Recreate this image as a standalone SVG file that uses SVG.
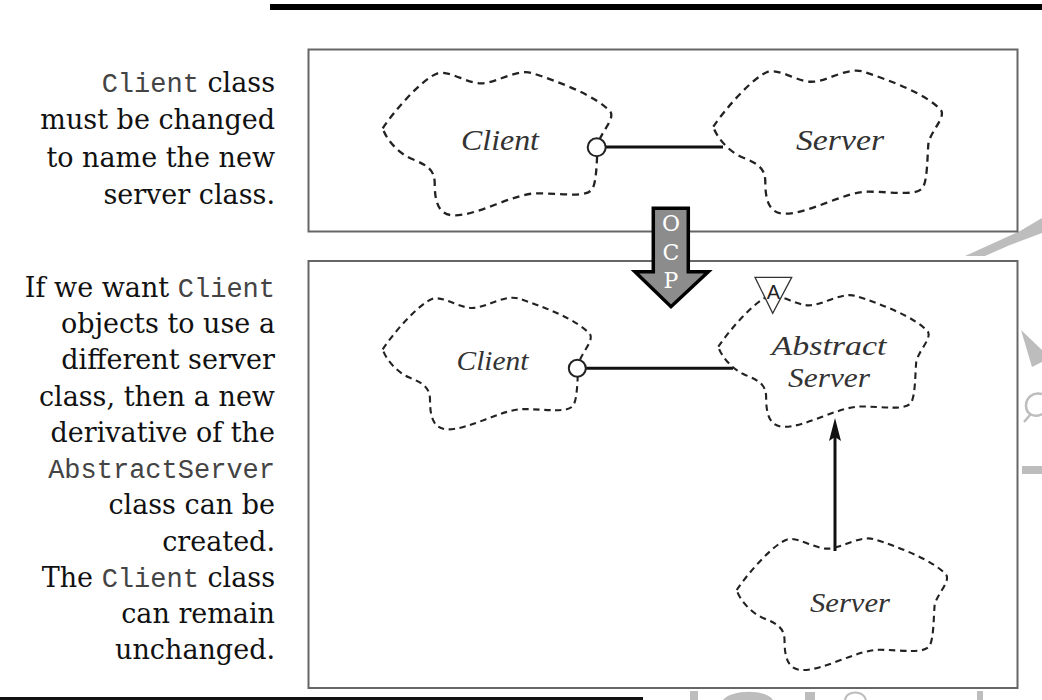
<svg xmlns="http://www.w3.org/2000/svg" width="1042" height="700" viewBox="0 0 1042 700">
<style>
.txt{font-family:"DejaVu Serif",serif;font-size:27px;fill:#111;text-anchor:end}
.mono{font-family:"Liberation Mono",monospace;font-size:27px;fill:#444}
.box{fill:none;stroke:#666;stroke-width:2}
.cloud{fill:none;stroke:#222;stroke-width:2.3;stroke-dasharray:7 5}
.lbl{font-family:"Liberation Serif",serif;font-style:italic;fill:#333;text-anchor:middle}
.port{fill:#fff;stroke:#222;stroke-width:2}
.conn{stroke:#111;stroke-width:3;fill:none}
.wm{fill:#bdbdbd}
.ocp{font-family:"DejaVu Serif",serif;font-size:22px;fill:#fff;text-anchor:middle}
</style>
<defs>
<path id="cloud" d="M0,0 C12,-18 40,-50 55,-55 C68,-58 85,-44 100,-45 C115,-46 135,-60 150,-55 C175,-47 215,-32 228,-16 C232,-8 216,6 215,18 C214,32 214,52 210,60 C205,70 180,65 155,65 C130,65 95,88 70,87 C55,86 52,72 52,55 C52,42 45,37 30,31 C15,25 3,10 0,0 Z"/>
</defs>
<rect x="0" y="0" width="1042" height="700" fill="#fff"/>

<g id="watermark">
<polygon class="wm" points="965,256 1020,231 1042,218 1042,233 1010,245 985,256"/>
<polygon class="wm" points="1021,330 1042,350 1042,362 1032,367"/>
<path d="M1042,394 C1032,392 1026,398 1026,406 C1026,414 1034,418 1042,414 M1030,415 L1024,422" fill="none" stroke="#bdbdbd" stroke-width="2.5"/>
<rect class="wm" x="1022" y="466" width="20" height="8"/>
<rect class="wm" x="690" y="691" width="8" height="9"/>
<path class="wm" d="M723,700 C730,690 765,688 773,700 Z"/>
<rect class="wm" x="805" y="692" width="10" height="8"/>
<path d="M845,700 C846,690 864,690 866,700" fill="none" stroke="#bdbdbd" stroke-width="2"/>
<rect class="wm" x="977" y="691" width="6" height="9"/>
</g>

<rect x="270" y="4" width="772" height="6" fill="#000"/>
<rect x="0" y="697" width="643" height="3" fill="#111"/>

<g id="text-top">
<text class="txt" x="275" y="92"><tspan class="mono">Client</tspan> class</text>
<text class="txt" x="275" y="129.3">must be changed</text>
<text class="txt" x="275" y="166.6">to name the new</text>
<text class="txt" x="275" y="204">server class.</text>
</g>
<g id="text-bottom">
<text class="txt" x="275" y="296.7">If we want <tspan class="mono">Client</tspan></text>
<text class="txt" x="275" y="333">objects to use a</text>
<text class="txt" x="275" y="369.2">different server</text>
<text class="txt" x="275" y="405.5">class, then a new</text>
<text class="txt" x="275" y="441.7">derivative of the</text>
<text class="txt" x="275" y="478"><tspan class="mono">AbstractServer</tspan></text>
<text class="txt" x="275" y="514.3">class can be</text>
<text class="txt" x="275" y="550.5">created.</text>
<text class="txt" x="275" y="586.8">The <tspan class="mono">Client</tspan> class</text>
<text class="txt" x="275" y="623">can remain</text>
<text class="txt" x="275" y="659.3">unchanged.</text>
</g>

<g id="frame-top"><rect class="box" x="308.5" y="49.5" width="709" height="182"/></g>
<g id="frame-bottom"><rect class="box" x="308.5" y="261" width="709" height="427"/></g>

<g id="connectors">
<line class="conn" x1="605" y1="147" x2="723" y2="147"/>
<line class="conn" x1="586" y1="368.3" x2="733" y2="368.3"/>
<line class="conn" x1="835" y1="436" x2="835" y2="551"/>
<path d="M835,418 L829,441 L835,437 L841,441 Z" fill="#111"/>
</g>

<g id="client-top">
<use href="#cloud" class="cloud" transform="translate(382.7,128.3)"/>
<circle class="port" cx="596.7" cy="147.3" r="9"/>
<text class="lbl" x="500" y="150" font-size="30" textLength="78" lengthAdjust="spacingAndGlyphs">Client</text>
</g>
<g id="server-top">
<use href="#cloud" class="cloud" transform="translate(713.3,126.7)"/>
<text class="lbl" x="840" y="150" font-size="30" textLength="88" lengthAdjust="spacingAndGlyphs">Server</text>
</g>
<g id="client-bottom">
<use href="#cloud" class="cloud" transform="translate(382.7,349.3) scale(0.91,0.92)"/>
<circle class="port" cx="577.3" cy="368.3" r="8.5"/>
<text class="lbl" x="492.5" y="370" font-size="28" textLength="72" lengthAdjust="spacingAndGlyphs">Client</text>
</g>
<g id="abstract-server">
<use href="#cloud" class="cloud" transform="translate(718.3,346.7) scale(0.92,0.92)"/>
<polygon points="755,277.3 791.7,277.3 772.7,313.3" fill="#fff" stroke="#333" stroke-width="1.3"/>
<text x="773.3" y="299" font-family="Liberation Sans, sans-serif" font-size="20" fill="#222" text-anchor="middle">A</text>
<text class="lbl" x="829" y="355" font-size="28" textLength="115" lengthAdjust="spacingAndGlyphs">Abstract</text>
<text class="lbl" x="829" y="386.7" font-size="28" textLength="82" lengthAdjust="spacingAndGlyphs">Server</text>
</g>
<g id="server-bottom">
<use href="#cloud" class="cloud" transform="translate(736.7,590) scale(0.92,0.92)"/>
<text class="lbl" x="850" y="611.7" font-size="28" textLength="80" lengthAdjust="spacingAndGlyphs">Server</text>
</g>

<g id="ocp-arrow">
<polygon points="653.3,208.3 688.3,208.3 688.3,271.7 708.3,271.7 671,306.7 635,271.7 653.3,271.7" fill="#8c8c8c" stroke="#000" stroke-width="3.5" stroke-linejoin="miter"/>
<text class="ocp" x="671" y="230.7">O</text>
<text class="ocp" x="671" y="260">C</text>
<text class="ocp" x="671" y="288.3">P</text>
</g>
</svg>
